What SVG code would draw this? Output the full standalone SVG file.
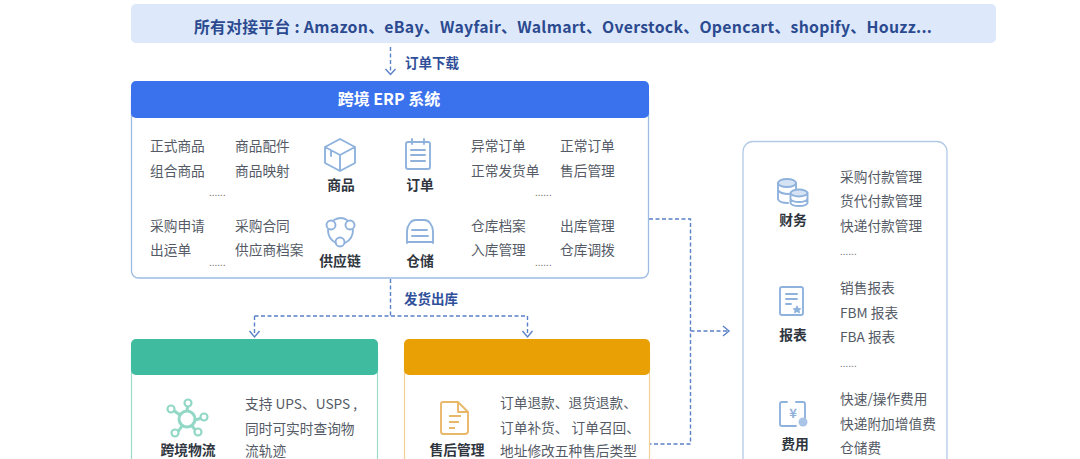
<svg xmlns="http://www.w3.org/2000/svg" width="1080" height="459" viewBox="0 0 1080 459">
<style>
text{font-family:"Noto Sans CJK SC","Noto Sans",sans-serif}
.t{font-size:13.7px;fill:#555b66}
.b{font-size:13.8px;font-weight:700;fill:#2f3640}
.d{font-size:10px;fill:#777}
.h{font-size:16px;font-weight:700;fill:#fff;text-anchor:middle}
.l{font-size:13.5px;font-weight:700;fill:#2f4f9a}
.c{fill:none;stroke:#5a80c8;stroke-width:1.4;stroke-dasharray:4 2.5}
.a{fill:none;stroke:#5a80c8;stroke-width:1.4}
.i{fill:none;stroke:#8fb2dd;stroke-width:1.9;stroke-linejoin:round;stroke-linecap:round}
.m{text-anchor:middle}
</style>
<rect width="1080" height="459" fill="#fff"/>
<g id="platforms">
<rect x="131" y="4" width="865" height="39" rx="5" fill="#dde8fb"/>
<text x="194" y="33" font-size="15.800" font-weight="700" fill="#2b4a8f" textLength="738" lengthAdjust="spacing">所有对接平台 : Amazon、eBay、Wayfair、Walmart、Overstock、Opencart、shopify、Houzz...</text>
</g>
<g id="connectors">
<path class="c" d="M390.500 47V73"/><path class="a" d="M385.500 69l5 5.500 5-5.500"/>
<path class="c" d="M390.500 279V316M254.500 316H527.500M254.500 316V335M527.500 316V335"/>
<path class="a" d="M249.500 331l5 6 5-6M522.500 331l5 6 5-6"/>
<path class="c" d="M649 219H690.500V444H650M690.500 331H727"/>
<path class="a" d="M723 326l6 5-6 5"/>
<text class="l" x="405" y="68">订单下载</text>
<text class="l" x="404" y="304">发货出库</text>
</g>
<g id="erp">
<rect x="131.500" y="90" width="517" height="188" rx="7" fill="#fff" stroke="#9dbbe3" stroke-width="1.300"/>
<rect x="131" y="81" width="518" height="37" rx="5" fill="#3a72ee"/>
<text class="h" x="389" y="105">跨境 ERP 系统</text>
<text class="t" x="150" y="151">正式商品</text><text class="t" x="235" y="151">商品配件</text>
<text class="t" x="150" y="176">组合商品</text><text class="t" x="235" y="176">商品映射</text>
<text class="d" x="209" y="196">......</text>
<text class="t" x="150" y="231">采购申请</text><text class="t" x="235" y="231">采购合同</text>
<text class="t" x="150" y="255">出运单</text><text class="t" x="235" y="255">供应商档案</text>
<text class="d" x="209" y="266">......</text>
<text class="t" x="471" y="151">异常订单</text><text class="t" x="560" y="151">正常订单</text>
<text class="t" x="471" y="176">正常发货单</text><text class="t" x="560" y="176">售后管理</text>
<text class="d" x="535" y="196">......</text>
<text class="t" x="471" y="231">仓库档案</text><text class="t" x="560" y="231">出库管理</text>
<text class="t" x="471" y="255">入库管理</text><text class="t" x="560" y="255">仓库调拨</text>
<text class="d" x="535" y="266">......</text>
<g id="icon-goods"><path class="i" d="M340 139l15 8v16l-15 8-15-8v-16zM325 147l15 8 15-8M340 155v16M331 151v5"/><text class="b m" x="341" y="190">商品</text></g>
<g id="icon-orders"><rect class="i" x="406" y="142" width="24" height="27" rx="2"/><path class="i" d="M412 139v5M424 139v5M411 150h14M411 155h14M411 161h14"/><text class="b m" x="420" y="190">订单</text></g>
<g id="icon-supply"><circle class="i" cx="331" cy="225" r="4.500"/><circle class="i" cx="350" cy="225" r="4.500"/><circle class="i" cx="340" cy="242" r="4.500"/><path class="i" d="M334 220q7-4 13 0M328 230q0 9 8 13M353 230q0 9-8 13"/><text class="b m" x="340" y="266">供应链</text></g>
<g id="icon-storage"><path class="i" d="M407 243v-12q0-4 3-8q2-3 6-3h8q4 0 6 3q3 4 3 8v12"/><path class="i" d="M412 230h15M412 236h16M407 242h26"/><text class="b m" x="420" y="266">仓储</text></g>
</g>
<g id="logistics">
<rect x="131.500" y="345" width="246" height="120" rx="6" fill="#fff" stroke="#9ddccb" stroke-width="1.200"/>
<rect x="131" y="339" width="247" height="36" rx="5" fill="#3fbb9f"/>
<g class="icon"><circle cx="187" cy="419" r="8" fill="none" stroke="#93d8c6" stroke-width="3"/><path d="M187 411l1-8M180 415l-7-5M195 420l7-2M192 426l5 6M182 426l-5 7" stroke="#93d8c6" stroke-width="3" fill="none"/><circle cx="188" cy="403" r="3.500" fill="#fff" stroke="#93d8c6" stroke-width="2.200"/><circle cx="171" cy="409" r="3.500" fill="#fff" stroke="#93d8c6" stroke-width="2.200"/><circle cx="198" cy="432" r="3.500" fill="#fff" stroke="#93d8c6" stroke-width="2.200"/><circle cx="204" cy="417" r="3.500" fill="#fff" stroke="#93d8c6" stroke-width="2.200"/><circle cx="175" cy="433" r="3.500" fill="#fff" stroke="#93d8c6" stroke-width="2.200"/></g>
<text class="b m" x="188" y="455">跨境物流</text>
<text class="t" x="245" y="409">支持 UPS、USPS ,</text>
<text class="t" x="245" y="434">同时可实时查询物</text>
<text class="t" x="245" y="456">流轨迹</text>
</g>
<g id="aftersales">
<rect x="404.500" y="345" width="245" height="120" rx="6" fill="#fff" stroke="#f2cf94" stroke-width="1.200"/>
<rect x="404" y="339" width="246" height="36" rx="5" fill="#e9a005"/>
<path d="M443 402h15l10 10v19q0 3-3 3h-22q-2 0-2-3v-27q0-2 2-2zM458 402v10h10M449 416h12M449 422h10M449 428h6" fill="none" stroke="#e8b769" stroke-width="1.900" stroke-linejoin="round"/>
<text class="b m" x="457" y="455">售后管理</text>
<text class="t" x="500" y="408">订单退款、退货退款、</text>
<text class="t" x="500" y="433">订单补货、 订单召回、</text>
<text class="t" x="500" y="456">地址修改五种售后类型</text>
</g>
<g id="finance-panel">
<rect x="743" y="141.500" width="204" height="340" rx="10" fill="#fff" stroke="#b3cae6" stroke-width="1.300"/>
<g><ellipse class="i" cx="787" cy="183" rx="9" ry="4" style="fill:#d5e3f5"/><path class="i" d="M778 183v16q1 4 10 4M778 190q2 4 11 4M796 183v6"/><ellipse class="i" cx="799" cy="193" rx="8.500" ry="3.500" style="fill:#d5e3f5"/><path class="i" d="M790.500 193v10q1 3 8.500 3t8.500-3v-10M790.500 199q2 3 8.500 3t8.500-3"/></g>
<text class="b m" x="793" y="225">财务</text>
<text class="t" x="840" y="182">采购付款管理</text><text class="t" x="840" y="206">货代付款管理</text><text class="t" x="840" y="231">快递付款管理</text>
<text class="d" x="840" y="255">......</text>
<g><path class="i" d="M782 287h19q2 0 2 2v24q0 2-2 2h-19q-2 0-2-2v-24q0-2 2-2zM786 294h11M786 299h11M786 304h5"/><path d="M797 305l1.500 3 3 .5-2 2 .5 3-3-1.500-3 1.500.5-3-2-2 3-.5z" fill="#8fb2dd"/></g>
<text class="b m" x="793" y="340">报表</text>
<text class="t" x="840" y="293">销售报表</text><text class="t" x="840" y="318">FBM 报表</text><text class="t" x="840" y="342">FBA 报表</text>
<text class="d" x="840" y="367">......</text>
<g><path class="i" d="M796 402h7q2 0 2 2v15M796 426h-14q-2 0-2-2v-20q0-2 2-2h5"/><text x="793" y="418" font-size="13" font-weight="700" fill="#8fb2dd" text-anchor="middle">¥</text><circle cx="803" cy="422" r="4.500" fill="#a9c4e6"/></g>
<text class="b m" x="795" y="449">费用</text>
<text class="t" x="840" y="404">快速/操作费用</text><text class="t" x="840" y="429">快递附加增值费</text><text class="t" x="840" y="453">仓储费</text>
</g>
</svg>
